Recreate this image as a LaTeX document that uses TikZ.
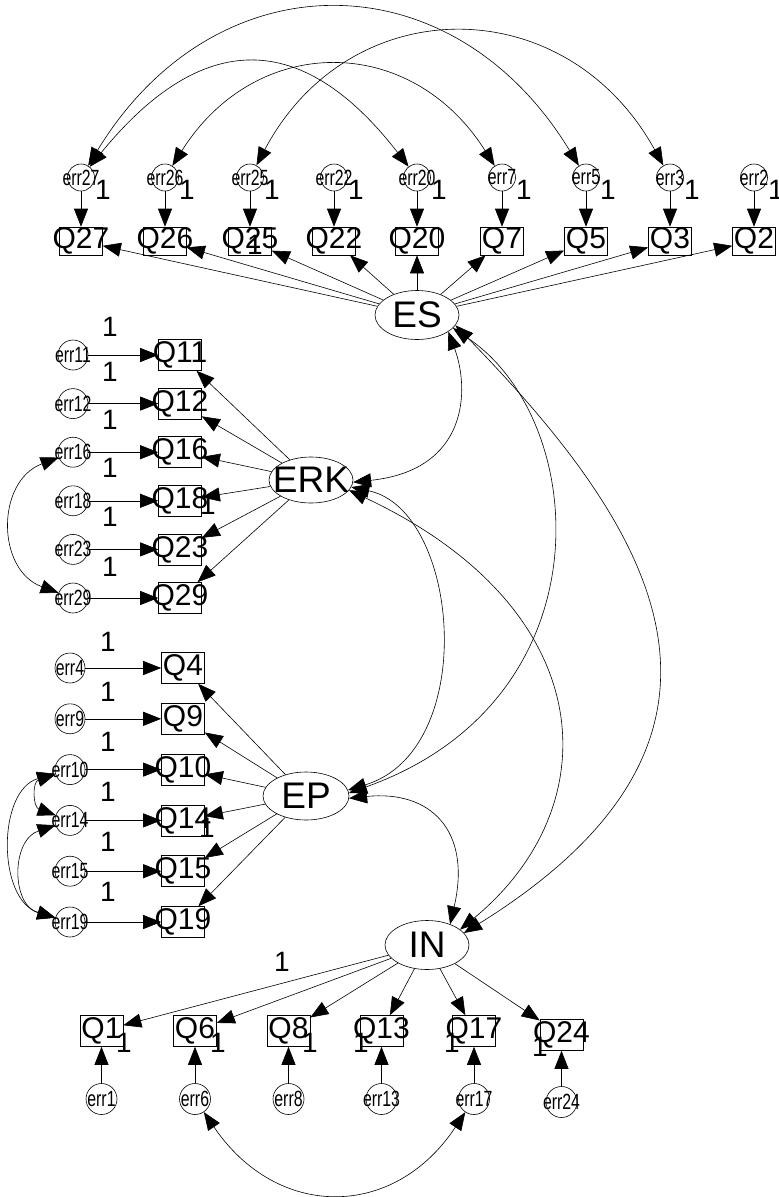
\documentclass[tikz,border=0pt]{standalone}
\usepackage{fontspec}
\setmainfont{Liberation Sans}
\usetikzlibrary{arrows.meta,shapes.geometric}
\begin{document}
\begin{tikzpicture}[x=1pt,y=-1pt,
  lat/.style={ellipse,draw,line width=0.6pt,minimum width=84pt,minimum height=49pt,inner sep=0pt},
  lattext/.style={font=\fontsize{37}{37}\selectfont,inner sep=0pt},
  obs/.style={rectangle,draw,line width=0.6pt,minimum width=43pt,minimum height=31pt,inner sep=0pt},
  obstop/.style={obs,minimum height=28pt},
  qtext/.style={font=\fontsize{30}{30}\selectfont,inner sep=0pt},
  errs/.style={circle,draw,line width=0.6pt,minimum size=30pt,inner sep=0pt},
  errtop/.style={errs,minimum size=27pt},
  errbot/.style={errs,minimum size=31pt},
  etext/.style={font=\fontsize{22}{22}\selectfont,inner sep=0pt,xscale=0.72},
  one/.style={font=\fontsize{28}{28}\selectfont,inner sep=0pt},
  reg/.style={-{Triangle[length=18pt,width=14pt]},line width=0.6pt},
  cov/.style={{Triangle[length=18pt,width=14pt]}-{Triangle[length=18pt,width=14pt]},line width=0.6pt}
]
\useasboundingbox (0,0) rectangle (779,1197);

% latent variables
\node[lat,label={[lattext]center:ES}] (es) at (417,315) {};
\node[lat,minimum height=46pt,label={[lattext]center:ERK}] (erk) at (311,480) {};
\node[lat,minimum width=86pt,minimum height=48pt,label={[lattext]center:EP}] (ep) at (306,796) {};
\node[lat,label={[lattext]center:IN}] (in) at (427,945) {};

% top row (ES)
\foreach \n/\x in {27/81,26/165,25/250,22/334,20/417,7/502,5/586,3/670,2/754} {
  \node[errtop,label={[etext]center:err\n}] (e\n) at (\x,177.5) {};
  \node[obstop,label={[qtext]center:Q\n}] (q\n) at (\x,241) {};
  \node[one] (o\n) at ({\x+22},190) {1};
  \draw[reg] (e\n) -- (q\n);
  \draw[reg] (es) -- (q\n);
}
\node[one] (oes) at (255,245) {1};

% ERK group
\foreach \n/\y/\oy in {11/355/327,12/403.6/372,16/452.2/420,18/500.8/468,23/549.4/517,29/598/567} {
  \node[errs,label={[etext]center:err\n}] (e\n) at (73,\y) {};
  \node[obs,label={[qtext]center:Q\n}] (q\n) at (180,\y) {};
  \node[one] (o\n) at (110,\oy) {1};
  \draw[reg] (e\n) -- (q\n);
  \draw[reg] (erk) -- (q\n);
}
\node[one] (oerk) at (208,505) {1};

% EP group
\foreach \n/\y/\oy in {4/668/642,9/718.8/692,10/769.6/742,14/820.4/792,15/871.2/842,19/922/892} {
  \node[errs,label={[etext]center:err\n}] (e\n) at (70,\y) {};
  \node[obs,label={[qtext]center:Q\n}] (q\n) at (183,\y) {};
  \node[one] (o\n) at (108,\oy) {1};
  \draw[reg] (e\n) -- (q\n);
  \draw[reg] (ep) -- (q\n);
}
\node[one] (oep) at (207,828) {1};

% IN group
\foreach \n/\x/\y/\ey/\ox/\oy in {1/101.5/1031/1099/124/1043,6/195/1031/1099/218/1043,8/288.5/1031/1099/310/1043,13/381.5/1031/1099/361/1043,17/474/1031/1099/452/1043,24/561.5/1035/1102/540/1047} {
  \node[errbot,label={[etext]center:err\n}] (e\n) at (\x,\ey) {};
  \node[obs,label={[qtext]center:Q\n}] (q\n) at (\x,\y) {};
  \node[one] (o\n) at (\ox,\oy) {1};
  \draw[reg] (e\n) -- (q\n);
  \draw[reg] (in) -- (q\n);
}
\node[one] (oin) at (282,962) {1};

% error covariances, top
\draw[cov] (e27) .. controls (215,-43) and (452,-43) .. (e5);
\draw[cov] (e27) .. controls (202,29) and (302,29) .. (e20);
\draw[cov] (e26) .. controls (256,33) and (411,33) .. (e7);
\draw[cov] (e25) .. controls (350,-11) and (566,-11) .. (e3);

% error covariances, left
\draw[cov] (e16) .. controls (-4,481) and (-4,570) .. (e29);
\draw[cov] (e10) .. controls (32,782) and (33,807) .. (e14);
\draw[cov] (e10) .. controls (-3,790) and (-3,900) .. (e19);
\draw[cov] (e14) .. controls (11,840) and (11,905) .. (e19);

% error covariance, bottom
\draw[cov] (e6) .. controls (277,1220) and (394,1220) .. (e17);

% latent covariances
\draw[cov] (es.-28) .. controls (470,390) and (468,470) .. (erk.-3);
\draw[cov] (es.-20) .. controls (590,420) and (610,700) .. (ep.4);
\draw[cov] (es.-15) .. controls (652,527) and (784,734) .. (in.18);
\draw[cov] (erk.-10) .. controls (460,510) and (480,750) .. (ep.8);
\draw[cov] (erk.-15) .. controls (602,609) and (610,806) .. (in.25);
\draw[cov] (ep.-3) .. controls (430,790) and (472,830) .. (in.42);
\end{tikzpicture}
\end{document}
